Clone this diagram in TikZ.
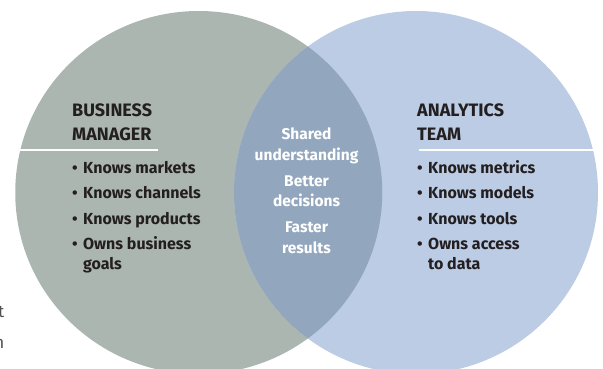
\documentclass[tikz,border=0pt]{standalone}
\usepackage{fontspec}
\setmainfont{Fira Sans}
\definecolor{leftfill}{HTML}{ABB6B0}
\definecolor{rightfill}{HTML}{BBCCE4}
\definecolor{overlapfill}{HTML}{92A7BD}
\definecolor{ink}{HTML}{231F20}
\definecolor{margin}{HTML}{505050}
\tikzset{
  hd/.style={anchor=base west, inner sep=0pt, text=ink, font=\fontsize{18}{20}\selectfont\bfseries},
  item/.style={anchor=base west, inner sep=0pt, text=ink, font=\fontsize{16}{19}\selectfont\bfseries},
  ctr/.style={anchor=base, inner sep=0pt, text=white, font=\fontsize{15.5}{19}\selectfont\bfseries},
  sepline/.style={draw=white, line width=2pt},
  marg/.style={anchor=base east, inner sep=0pt, text=margin, font=\fontsize{17}{20}\selectfont}
}
\newcommand{\bul}{\makebox[11pt][l]{\textbullet}}
\begin{document}
\begin{tikzpicture}[x=1pt,y=-1pt]
\useasboundingbox (0,0) rectangle (603,368);
% circles
\fill[leftfill] (198.75,192.5) ellipse [x radius=183.5, y radius=181.5];
\fill[rightfill] (416,192.5) ellipse [x radius=182, y radius=181.5];
\begin{scope}
  \clip (198.75,192.5) ellipse [x radius=183.5, y radius=181.5];
  \fill[overlapfill] (416,192.5) ellipse [x radius=182, y radius=181.5];
\end{scope}
% separator lines
\coordinate (lA) at (20,150);
\coordinate (lB) at (158,150);
\coordinate (rA) at (418.7,150);
\coordinate (rB) at (593,150);
\draw[sepline] (lA) -- (lB);
\draw[sepline] (rA) -- (rB);
% left block
\node[hd] (bm1) at (72,116) {BUSINESS};
\node[hd] (bm2) at (72,140) {MANAGER};
\node[item] (bi1) at (72,173) {\bul Knows markets};
\node[item] (bi2) at (72,198.5) {\bul Knows channels};
\node[item] (bi3) at (72,224) {\bul Knows products};
\node[item] (bi4) at (72,249) {\bul Owns business};
\node[item] (bi5) at (83,269) {goals};
% right block
\node[hd] (at1) at (417,116) {ANALYTICS};
\node[hd] (at2) at (417,140) {TEAM};
\node[item] (ai1) at (417,173) {\bul Knows metrics};
\node[item] (ai2) at (417,198.5) {\bul Knows models};
\node[item] (ai3) at (417,224) {\bul Knows tools};
\node[item] (ai4) at (417,249) {\bul Owns access};
\node[item] (ai5) at (428,269) {to data};
% centre
\node[ctr] (c1) at (306.5,139.5) {Shared};
\node[ctr] (c2) at (306.5,160) {understanding};
\node[ctr] (c3) at (306.5,186) {Better};
\node[ctr] (c4) at (306.5,206.5) {decisions};
\node[ctr] (c5) at (306.5,232.5) {Faster};
\node[ctr] (c6) at (306.5,253) {results};
% margin fragments
\node[marg] (m1) at (4.5,317) {t};
\node[marg] (m2) at (4.5,348) {n};
\end{tikzpicture}
\end{document}
